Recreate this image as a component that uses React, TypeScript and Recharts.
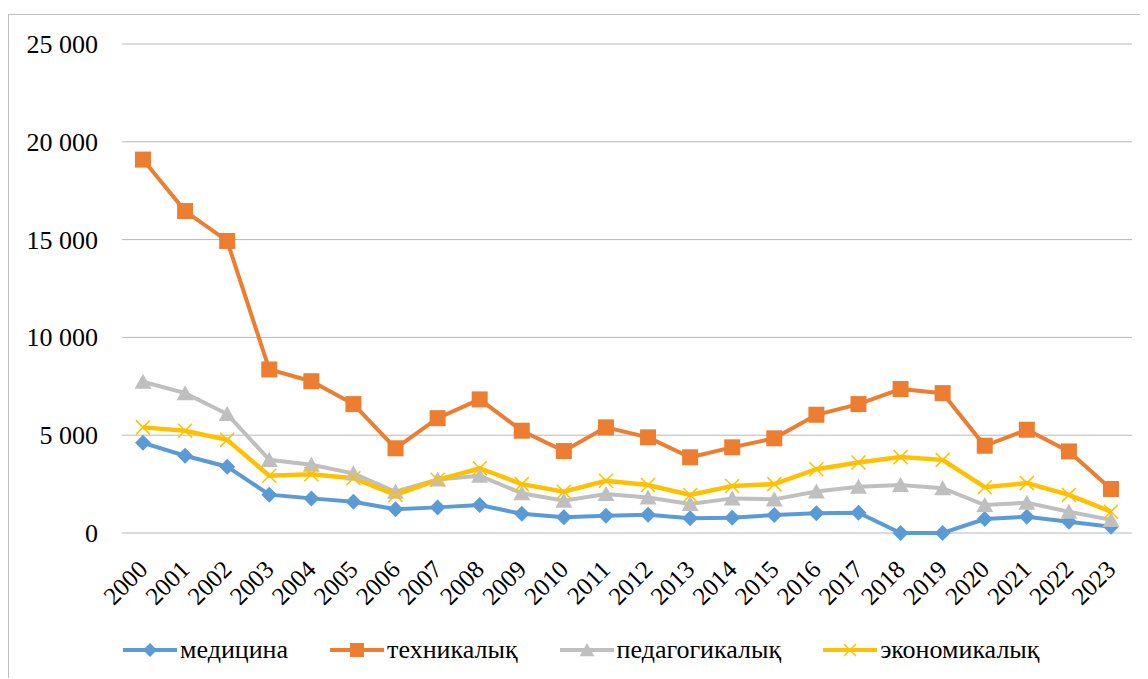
import { useEffect, useState } from "react";
import { CartesianGrid, Legend, Line, LineChart, XAxis, YAxis } from "recharts";

const years = [
  "2000", "2001", "2002", "2003", "2004", "2005", "2006", "2007", "2008", "2009", "2010", "2011",
  "2012", "2013", "2014", "2015", "2016", "2017", "2018", "2019", "2020", "2021", "2022", "2023",
];

const medicine = [4610, 3950, 3390, 1960, 1770, 1600, 1210, 1310, 1430, 980, 800, 880, 930, 750, 780, 920, 1010, 1040, 0, 0, 715, 835, 580, 325];
const technical = [19090, 16460, 14930, 8360, 7760, 6590, 4330, 5870, 6830, 5230, 4190, 5400, 4890, 3870, 4380, 4840, 6045, 6590, 7360, 7150, 4460, 5280, 4170, 2250];
const pedagogical = [7730, 7150, 6080, 3740, 3490, 3050, 2110, 2740, 2930, 2030, 1650, 1990, 1820, 1480, 1770, 1720, 2120, 2370, 2460, 2290, 1430, 1550, 1090, 670];
const economic = [5400, 5230, 4760, 2930, 3000, 2800, 1950, 2720, 3310, 2500, 2110, 2670, 2450, 1940, 2400, 2500, 3260, 3600, 3880, 3740, 2340, 2550, 1950, 1090];

const yTicks = [0, 5000, 10000, 15000, 20000, 25000];

const seriesOrder = ["med", "tech", "ped", "eco"];

const data = years.map((year, i) => ({
  year,
  med: medicine[i],
  tech: technical[i],
  ped: pedagogical[i],
  eco: economic[i],
}));

const FONT = "Liberation Serif";
const colors = { med: "#5B9BD5", tech: "#ED7D31", ped: "#BFBFBF", eco: "#FFC000" };

type Shape = "diamond" | "square" | "triangle" | "cross";
const shapes: Record<string, Shape> = { med: "diamond", tech: "square", ped: "triangle", eco: "cross" };

const Marker = ({ cx, cy, shape, color, r = 8 }: { cx: number; cy: number; shape: Shape; color: string; r?: number }) => {
  if (shape === "diamond") {
    return <polygon points={`${cx},${cy - r} ${cx + r},${cy} ${cx},${cy + r} ${cx - r},${cy}`} fill={color} />;
  }
  if (shape === "square") {
    return <rect x={cx - r} y={cy - r} width={2 * r} height={2 * r} fill={color} />;
  }
  if (shape === "triangle") {
    return <polygon points={`${cx},${cy - r} ${cx + r * 1.06},${cy + r * 0.88} ${cx - r * 1.06},${cy + r * 0.88}`} fill={color} />;
  }
  return (
    <g stroke={color} strokeWidth={1.5}>
      <line x1={cx - r + 1} y1={cy - r + 1} x2={cx + r - 1} y2={cy + r - 1} />
      <line x1={cx - r + 1} y1={cy + r - 1} x2={cx + r - 1} y2={cy - r + 1} />
    </g>
  );
};

const dotFor = (key: string) => (props: any) => {
  const { cx, cy, index } = props;
  if (cx == null || cy == null) return <g key={index} />;
  return <Marker key={index} cx={cx} cy={cy} shape={shapes[key]} color={colors[key as keyof typeof colors]} />;
};

const formatThousands = (v: number) => String(v).replace(/\B(?=(\d{3})+(?!\d))/g, " ");

const YearTick = (props: any) => {
  const { x, y, payload } = props;
  return (
    <g transform={`translate(${x + 6}, ${y + 30})`}>
      <text transform="rotate(-45)" textAnchor="end" fontFamily={FONT} fontSize={25} fill="#000">
        {payload.value}
      </text>
    </g>
  );
};

const ValueTick = (props: any) => {
  const { x, y, payload } = props;
  return (
    <text x={x} y={y} dy={9} textAnchor="end" fontFamily={FONT} fontSize={26} fill="#000">
      {formatThousands(payload.value)}
    </text>
  );
};

const LegendContent = (props: any) => {
  const payload: any[] = props.payload || [];
  const items = seriesOrder
    .map((k) => payload.find((p) => p.dataKey === k))
    .filter(Boolean);
  return (
    <div style={{ display: "flex", alignItems: "center", gap: 42, fontFamily: FONT, fontSize: 26, color: "#000" }}>
      {items.map((entry: any) => (
        <span key={entry.dataKey} style={{ display: "flex", alignItems: "center", gap: 3, fontFamily: FONT }}>
          <svg width={54} height={20}>
            <line x1={0} y1={10} x2={54} y2={10} stroke={entry.color} strokeWidth={4} />
            <Marker cx={27} cy={10} r={7} shape={shapes[entry.dataKey]} color={entry.color} />
          </svg>
          {entry.value}
        </span>
      ))}
    </div>
  );
};

export default function App() {
  const [ready, setReady] = useState(false);
  useEffect(() => {
    const t = setTimeout(() => setReady(true), 200);
    return () => clearTimeout(t);
  }, []);

  return (
    <div
      style={{
        position: "relative",
        marginTop: 6,
        width: 1138,
        height: 663,
        borderLeft: "1px solid #BFBFBF",
        borderTop: "1px solid #BFBFBF",
        overflow: "hidden",
        background: "#fff",
        fontFamily: FONT,
      }}
    >
      <LineChart
        key={ready ? "ready" : "init"}
        width={1138}
        height={663}
        data={data}
        margin={{ top: 29, right: 15, left: 0, bottom: 0 }}
        style={{ fontFamily: FONT }}
      >
        <CartesianGrid vertical={false} stroke="#B8B8B8" strokeWidth={1} />
        <XAxis
          dataKey="year"
          height={145}
          axisLine={false}
          tickLine={false}
          interval={0}
          padding={{ left: 21, right: 21 }}
          tick={<YearTick />}
        />
        <YAxis
          width={113}
          domain={[0, 25000]}
          ticks={yTicks}
          axisLine={false}
          tickLine={false}
          tickMargin={18}
          tick={<ValueTick />}
        />
        <Legend
          verticalAlign="middle"
          layout="horizontal"
          content={<LegendContent />}
          wrapperStyle={{ left: 114, top: 620, width: 1000 }}
        />
        <Line dataKey="med" name="медицина" stroke={colors.med} strokeWidth={4} dot={dotFor("med")} isAnimationActive={false} />
        <Line dataKey="tech" name="техникалық" stroke={colors.tech} strokeWidth={4} dot={dotFor("tech")} isAnimationActive={false} />
        <Line dataKey="ped" name="педагогикалық" stroke={colors.ped} strokeWidth={4} dot={dotFor("ped")} isAnimationActive={false} />
        <Line dataKey="eco" name="экономикалық" stroke={colors.eco} strokeWidth={4.5} dot={dotFor("eco")} isAnimationActive={false} />
      </LineChart>
    </div>
  );
}
